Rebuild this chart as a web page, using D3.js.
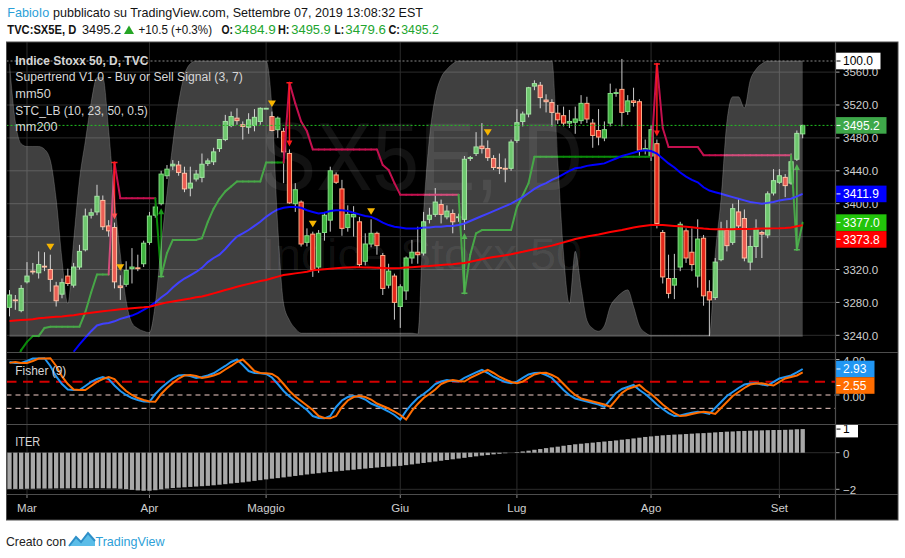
<!DOCTYPE html>
<html><head><meta charset="utf-8">
<script src="https://cdn.jsdelivr.net/npm/d3@7"></script>
<style>
body{margin:0;background:#fff;}
svg{display:block;}
text{font-family:"Liberation Sans",Arial,sans-serif;}
</style></head>
<body><svg id="c" width="905" height="558"></svg>
<script>
// ---------- DATA ----------
const monthLabels = ["Mar","Apr","Maggio","Giu","Lug","Ago","Set"];
const monthStart = [3,24,44,67,87,110,132];
const priceTicks = [3240,3280,3320,3360,3400,3440,3480,3520,3560];
const fisherTicks = [0,4];
const iterTicks = [-2,0];

const open = [
3274,3283,3270,3305,3318,3316,3324,3320,3300,3290,
3312,3301,3323,3344,3386,3390,3404,3373,3371,3300,
3302,3321,3322,3327,3353,3386,3400,3434,3446,3447,
3437,3419,3430,3432,3449,3451,3467,3478,3495,3504,
3496,3493,3495,3500,3516,3506,3490,3488,3461,3400,
3402,3353,3363,3323,3365,3380,3435,3418,3371,3384,
3378,3330,3351,3364,3337,3301,3312,3275,3294,3334,
3341,3340,3381,3387,3399,3384,3388,3383,3381,3455,
3461,3470,3467,3455,3444,3443,3443,3477,3500,3509,
3543,3544,3526,3523,3510,3507,3498,3499,3501,3522,
3498,3489,3480,3498,3534,3539,3512,3525,3524,3465,
3458,3473,3365,3309,3301,3323,3367,3341,3312,3358,
3293,3286,3332,3368,3353,3390,3382,3329,3348,3365,
3362,3413,3426,3432,3425,3454,3484.9];
const high = [
3295,3289,3301,3329,3328,3342,3341,3338,3305,3309,
3321,3328,3350,3394,3394,3423,3410,3380,3377,3313,
3330,3346,3338,3355,3390,3400,3440,3447,3453,3452,
3445,3445,3441,3461,3455,3468,3478,3508,3512,3516,
3500,3510,3515,3517,3516,3512,3506,3492,3466,3425,
3404,3370,3366,3368,3390,3445,3438,3429,3398,3397,
3384,3364,3381,3366,3340,3327,3315,3302,3336,3356,
3372,3390,3395,3419,3405,3398,3393,3388,3458,3458,
3487,3498,3477,3459,3461,3455,3478,3515,3512,3542,
3550,3548,3533,3527,3520,3518,3514,3518,3532,3530,
3503,3515,3500,3546,3540,3576,3532,3541,3527,3478,
3495,3478,3368,3338,3339,3378,3370,3370,3381,3362,
3307,3334,3378,3380,3400,3406,3393,3361,3381,3367,
3415,3442,3442,3436,3461,3489,3495.9];
const low = [
3263,3271,3268,3303,3314,3309,3318,3293,3275,3285,
3300,3298,3320,3342,3382,3386,3368,3360,3297,3283,
3299,3303,3318,3323,3350,3383,3398,3430,3441,3434,
3414,3409,3427,3426,3446,3447,3463,3476,3493,3496,
3478,3485,3488,3496,3516,3488,3480,3425,3400,3390,
3348,3348,3311,3316,3355,3366,3424,3361,3366,3360,
3323,3325,3347,3338,3289,3297,3259,3249,3283,3327,
3327,3337,3376,3384,3376,3381,3364,3378,3368,3452,
3458,3461,3452,3441,3436,3426,3440,3474,3494,3505,
3538,3516,3511,3494,3497,3494,3492,3485,3497,3498,
3468,3471,3476,3494,3530,3494,3508,3518,3456,3460,
3452,3370,3303,3285,3284,3318,3328,3318,3298,3276,
3239,3283,3330,3342,3350,3368,3330,3319,3334,3334,
3358,3410,3424,3408,3423,3452,3479.6];
const close = [
3289,3282,3297,3312,3317,3326,3323,3308,3282,3304,
3303,3323,3342,3385,3389,3409,3372,3367,3305,3298,
3319,3323,3321,3352,3385,3396,3436,3442,3448,3438,
3418,3425,3436,3448,3452,3463,3478,3500,3506,3501,
3494,3502,3505,3516,3516,3489,3504,3463,3401,3417,
3351,3361,3320,3364,3386,3440,3426,3370,3387,3387,
3326,3351,3364,3349,3297,3318,3280,3299,3334,3341,
3338,3378,3386,3402,3387,3391,3378,3384,3454,3456,
3469,3467,3456,3444,3443,3442.6,3475,3498.5,3509,3541,
3546,3529,3524,3511,3502,3498,3500,3503,3522,3503,
3483,3481,3490,3534,3535,3511,3525,3523,3465,3467,
3490,3376,3311,3291,3309,3375,3334,3326,3357,3288,
3283,3329,3369,3349,3394,3373,3334,3348,3370,3363,
3412,3428,3434,3422,3451,3485.5,3495.2];

const mm50 = [
null,null,null,null,null,null,null,null,null,null,
null,3220,3229,3237,3245,3252,3254,3255,3257,3260,
3262,3264,3267,3271,3275,3280,3286,3291,3298,3304,
3309,3313,3317,3322,3329,3334,3338,3345,3353,3360,
3364,3368,3373,3378,3384,3389,3393,3395,3396,3396,
3395,3392,3390,3388,3389,3391,3392,3392,3391,3389,
3387,3385,3384,3381,3377,3374,3372,3371,3370,3370,
3370,3371,3371,3372,3372,3373,3373,3374,3376,3379,
3382,3385,3388,3391,3394,3397,3400,3404,3408,3413,
3418,3422,3425,3429,3432,3436,3440,3443,3444,3446,
3447,3448,3449,3452,3455,3458,3460,3462,3464,3465,
3464,3461,3455,3449,3444,3438,3433,3429,3426,3420,
3416,3414,3412,3410,3408,3406,3404,3402,3401,3400,
3401,3402,3404,3405,3406,3409,3411.9];

const mm200 = [
3257.5,3258,3258.5,3259,3259.5,3260.8,3261.3,3262,3262.5,3263,
3263.8,3264.5,3265.5,3266.5,3267.5,3268.3,3269.2,3270,3270.8,3271.6,
3272.2,3272.8,3273.4,3274,3274.8,3276.5,3278.3,3280,3281.2,3282.4,
3283.6,3284.8,3286.3,3287.2,3289,3291,3293,3295,3297,3299,
3300.8,3302.5,3304.2,3306,3307.3,3309.3,3311.3,3313.2,3314.3,3315.3,
3316.2,3317.2,3319,3319.8,3320.4,3321,3321.5,3322,3322.4,3322.7,
3322.7,3322.5,3322.3,3322,3321.7,3321.5,3321.5,3321.7,3322.3,3322.8,
3323.4,3324,3324.4,3325,3325.5,3326,3326.5,3327.2,3328,3329.5,
3331,3332.5,3334,3335.2,3336.2,3337.2,3338.5,3340,3341.5,3343.2,
3344.5,3346,3347.5,3349,3351,3353,3355,3357,3358.5,3360,
3361.3,3362.5,3364,3365.5,3366.8,3368,3369.5,3371,3372.2,3373.3,
3374,3374.2,3374,3373.5,3373,3372.5,3372,3371.5,3370.5,3369.8,
3369.3,3369,3368.8,3368.8,3369,3369.2,3369.2,3369.3,3369.5,3369.7,
3369.8,3370,3370.2,3370.6,3371.2,3372.5,3373.8];

const stLine = [
3195,3205,3222,3232,3239,3239,3249,3250.5,3250.5,3250.5,
3250.5,3250.5,3250.5,3268,3292,3314,3314,3314,3450,3406.6,
3406.6,3406.6,3406.6,3406.6,3406.6,3406.6,3311.5,3340,3356,3356,
3356,3356,3356,3358,3378,3394,3406,3415,3421,3427,
3427,3427,3427,3427,3450,3450,3450,3450,3547,3522,
3500,3488,3466,3466,3466,3466,3466,3466,3466,3466,
3466,3466,3466,3466,3447,3441,3425,3411,3411,3411,
3411,3411,3411,3411,3411,3411,3411,3411,3291,3338,
3364,3368,3368,3368,3368,3368,3368,3396,3410,3425,
3457,3457,3457,3457,3457,3457,3457,3457,3457,3457,
3457,3457,3457,3457,3457,3457,3457,3457,3457,3457,
3457,3570,3492,3469,3469,3469,3469,3469,3469,3459,
3459,3459,3459,3459,3459,3459,3459,3459,3459,3459,
3459,3459,3459,3459,3459,3344,3377];
const stDir = [
1,1,1,1,1,1,1,1,1,1,
1,1,1,1,1,1,1,1,-1,-1,
-1,-1,-1,-1,-1,-1,1,1,1,1,
1,1,1,1,1,1,1,1,1,1,
1,1,1,1,1,1,1,1,-1,-1,
-1,-1,-1,-1,-1,-1,-1,-1,-1,-1,
-1,-1,-1,-1,-1,-1,-1,-1,-1,-1,
-1,-1,-1,-1,-1,-1,-1,-1,1,1,
1,1,1,1,1,1,1,1,1,1,
1,1,1,1,1,1,1,1,1,1,
1,1,1,1,1,1,1,1,1,1,
1,-1,-1,-1,-1,-1,-1,-1,-1,-1,
-1,-1,-1,-1,-1,-1,-1,-1,-1,-1,
-1,-1,-1,-1,-1,1,1];
const sellSignals = [18,48,111];
const buySignals = [26,78,135];
const warnMarks = [7,19,45,52,62,82];

const stc = [
99,78,70,69,69,69,68,64,50,28,
12,35,57,71,85,94,94,75,50,30,
13,5,3,2,1.5,12,33,52,70,85,
95,99,100,100,100,100,100,100,100,100,
100,100,100,100,100,83,40,12,6,3,
1.3,1.3,1.3,1.3,1.3,1.3,1.3,1.3,1.3,1.3,
1.3,1.3,1.3,1.3,1.3,1.3,1.3,1.3,1.3,1.3,
1,45,72,87,94,97,99,100,100,100,
100,100,100,100,100,100,100,100,100,100,
100,100,100,100,64,30,12,31,18,6,
3,2,4,11,14,16,17,11,4,1.5,
0.5,0.5,0.5,0.5,0.5,0.5,0.5,0.5,0.5,0.5,
0.5,30,50,78,87,87,83,93,97,99,
100,100,100,100,100,100,100];

const fisher = [
3.72,3.6,3.6,3.83,4.1,4.1,4.14,3.27,2.09,1.24,
0.62,0.56,0.56,1.01,1.47,1.8,2.03,1.8,1.07,0.45,
0,-0.34,-0.56,-0.73,-0.76,0.11,0.79,1.35,1.86,2.2,
2.25,2.14,1.92,2.03,2.2,2.45,2.87,3.27,3.72,4.0,
3.38,2.7,2.48,2.45,2.37,1.97,1.24,0.45,-0.17,-0.68,
-1.18,-1.69,-2.37,-2.59,-2.63,-2.37,-1.35,-0.62,-0.23,-0.11,
-0.23,-0.51,-0.96,-1.24,-1.52,-1.86,-2.25,-2.76,-1.8,-1.01,
-0.34,0.11,0.62,1.24,1.52,1.69,1.58,1.52,1.92,2.25,
2.54,2.82,2.48,2.06,1.75,1.47,1.32,1.5,1.92,2.31,
2.48,2.51,2.25,1.92,1.24,0.56,0,-0.39,-0.56,-0.73,
-0.9,-1.07,-1.32,-0.56,0.23,0.68,0.9,1.13,0.56,0.11,
-0.45,-1.07,-1.58,-2.03,-2.37,-2.31,-2.14,-2.0,-1.88,-1.97,
-2.14,-1.47,-0.79,-0.11,0.34,0.79,1.18,1.3,1.32,1.18,
1.07,1.47,1.86,2.03,2.2,2.54,2.93];
const trigger = [
3.62,3.72,3.6,3.6,3.83,4.1,4.1,4.14,3.27,2.09,
1.24,0.62,0.56,0.56,1.01,1.47,1.8,2.03,1.8,1.07,
0.45,0,-0.34,-0.56,-0.73,-0.76,0.11,0.79,1.35,1.86,
2.2,2.25,2.14,1.92,2.03,2.2,2.45,2.87,3.27,3.72,
4.0,3.38,2.7,2.48,2.45,2.37,1.97,1.24,0.45,-0.17,
-0.68,-1.18,-1.69,-2.37,-2.59,-2.63,-2.37,-1.35,-0.62,-0.23,
-0.11,-0.23,-0.51,-0.96,-1.24,-1.52,-1.86,-2.25,-2.76,-1.8,
-1.01,-0.34,0.11,0.62,1.24,1.52,1.69,1.58,1.52,1.92,
2.25,2.54,2.82,2.48,2.06,1.75,1.47,1.32,1.5,1.92,
2.31,2.48,2.51,2.25,1.92,1.24,0.56,0,-0.39,-0.56,
-0.73,-0.9,-1.07,-1.32,-0.56,0.23,0.68,0.9,1.13,0.56,
0.11,-0.45,-1.07,-1.58,-2.03,-2.37,-2.31,-2.14,-2.0,-1.88,
-1.97,-2.14,-1.47,-0.79,-0.11,0.34,0.79,1.18,1.3,1.32,
1.18,1.07,1.47,1.86,2.03,2.2,2.55];

const iter = [
-1.98,-1.98,-1.98,-1.97,-1.97,-1.96,-1.96,-1.96,-1.95,-1.95,
-1.95,-1.94,-1.94,-1.94,-1.94,-1.94,-1.94,-1.95,-1.95,-1.97,
-1.99,-2.03,-2.06,-2.08,-2.08,-2.05,-2.0,-1.96,-1.93,-1.91,
-1.89,-1.87,-1.85,-1.83,-1.81,-1.78,-1.75,-1.72,-1.68,-1.65,
-1.62,-1.58,-1.54,-1.5,-1.46,-1.42,-1.39,-1.35,-1.31,-1.27,
-1.23,-1.19,-1.15,-1.12,-1.08,-1.05,-1.02,-0.99,-0.96,-0.93,
-0.9,-0.87,-0.84,-0.81,-0.78,-0.76,-0.74,-0.72,-0.68,-0.64,
-0.6,-0.56,-0.52,-0.48,-0.44,-0.4,-0.36,-0.32,-0.28,-0.24,
-0.2,-0.16,-0.13,-0.09,-0.06,-0.03,0.0,0.03,0.07,0.11,
0.16,0.2,0.25,0.29,0.33,0.38,0.42,0.46,0.49,0.52,
0.55,0.58,0.61,0.64,0.67,0.71,0.74,0.78,0.82,0.86,
0.89,0.92,0.95,0.97,0.99,1.0,1.02,1.04,1.06,1.07,
1.09,1.11,1.13,1.15,1.16,1.18,1.19,1.2,1.21,1.22,
1.23,1.24,1.24,1.25,1.26,1.28,1.29];

// ---------- LAYOUT ----------
const W = 905, H = 558;
const L = 6.5, R = 835.5, RR = 898, TOP = 42, S1 = 352.5, S2 = 424.5, S3 = 494.5, BOT = 520;
const N = open.length;

const x = d3.scaleLinear().domain([0, N - 1]).range([9.5, 802.7]);
const y = d3.scaleLinear().domain([3240, 3560]).range([335.3, 72.1]);
const yStc = d3.scaleLinear().domain([0, 100]).range([336.7, 61]);
const yF = d3.scaleLinear().domain([0, 4]).range([395, 359.5]);
const yI = d3.scaleLinear().domain([-2, 0]).range([489.3, 452.7]);

const svg = d3.select("#c");
svg.append("rect").attr("width", W).attr("height", H).attr("fill", "#fff");
svg.append("rect").attr("x", L).attr("y", TOP).attr("width", RR - L).attr("height", BOT - TOP).attr("fill", "#000");

const defs = svg.append("defs");
function clip(id, x0, y0, w, h) {
  defs.append("clipPath").attr("id", id).append("rect").attr("x", x0).attr("y", y0).attr("width", w).attr("height", h);
}
clip("cp1", L, TOP, R - L, S1 - TOP);
clip("cp2", L, S1, R - L, S2 - S1);
clip("cp3", L, S2, R - L, S3 - S2);
clip("ca1", R, TOP, RR - R, S1 - TOP);
clip("ca2", R, S1, RR - R, S2 - S1);
clip("ca3", R, S2, RR - R, S3 - S2);

const GRID = "#2c2c2c";
const gv = svg.append("g");
monthStart.forEach(i => {
  gv.append("line").attr("x1", x(i)).attr("x2", x(i)).attr("y1", TOP).attr("y2", S3)
    .attr("stroke", GRID).attr("stroke-width", 1);
});

// ---------- PRICE PANE ----------
const g1 = svg.append("g").attr("clip-path", "url(#cp1)");
priceTicks.forEach(t => {
  g1.append("line").attr("x1", L).attr("x2", R).attr("y1", y(t)).attr("y2", y(t))
    .attr("stroke", GRID).attr("stroke-width", 1);
});
g1.append("text").attr("x", 421.5).attr("y", 190).attr("text-anchor", "middle")
  .attr("font-size", 96).attr("textLength", 323).attr("lengthAdjust", "spacingAndGlyphs")
  .attr("fill", "rgba(255,255,255,0.07)").text("SX5E, D");
g1.append("text").attr("x", 422).attr("y", 270).attr("text-anchor", "middle")
  .attr("font-size", 44).attr("textLength", 320).attr("lengthAdjust", "spacingAndGlyphs")
  .attr("fill", "rgba(255,255,255,0.07)").text("Indice Stoxx 50");

const bw = 4.2;
const cg = g1.append("g");
for (let i = 0; i < N; i++) {
  const up = close[i] >= open[i];
  const cx = x(i);
  cg.append("line").attr("x1", cx).attr("x2", cx).attr("y1", y(high[i])).attr("y2", y(low[i]))
    .attr("stroke", "#c9c9c9").attr("stroke-width", 1);
  const yt = y(Math.max(open[i], close[i])), yb = y(Math.min(open[i], close[i]));
  cg.append("rect").attr("x", cx - bw / 2).attr("y", yt).attr("width", bw).attr("height", Math.max(yb - yt, 0.8))
    .attr("fill", up ? "#3fb43f" : "#e3281c").attr("stroke", up ? "#84dc84" : "#ffab85").attr("stroke-width", 1);
}

const stg = g1.append("g");
for (let i = 1; i < N; i++) {
  stg.append("line").attr("x1", x(i - 1)).attr("y1", y(stLine[i - 1])).attr("x2", x(i)).attr("y2", y(stLine[i]))
    .attr("stroke", stDir[i] > 0 ? "#0a8a0a" : "#c4104f").attr("stroke-width", 2).attr("stroke-linecap", "round");
}
sellSignals.forEach(i => {
  const cx = x(i), y0 = y(stLine[i]), y1 = y(high[i]) - 3;
  stg.append("line").attr("x1", cx).attr("x2", cx).attr("y1", y0).attr("y2", y1 - 4).attr("stroke", "#ff1a1a").attr("stroke-width", 1.5);
  stg.append("line").attr("x1", cx - 3).attr("x2", cx + 3).attr("y1", y0).attr("y2", y0).attr("stroke", "#ff1a1a").attr("stroke-width", 1.5);
  stg.append("path").attr("d", `M${cx - 3},${y1 - 6}L${cx + 3},${y1 - 6}L${cx},${y1}Z`).attr("fill", "#ff1a1a");
});
buySignals.forEach(i => {
  const cx = x(i), y0 = y(stLine[i]), y1 = y(low[i]) + 3;
  stg.append("line").attr("x1", cx).attr("x2", cx).attr("y1", y0).attr("y2", y1 + 4).attr("stroke", "#1a9a1a").attr("stroke-width", 1.5);
  stg.append("line").attr("x1", cx - 3).attr("x2", cx + 3).attr("y1", y0).attr("y2", y0).attr("stroke", "#1a9a1a").attr("stroke-width", 1.5);
  stg.append("path").attr("d", `M${cx - 3},${y1 + 6}L${cx + 3},${y1 + 6}L${cx},${y1}Z`).attr("fill", "#1a9a1a");
});

g1.append("path").datum(mm50)
  .attr("d", d3.line().defined(d => d != null).x((d, i) => x(i)).y(d => y(d)))
  .attr("fill", "none").attr("stroke", "#0000ff").attr("stroke-width", 2);

g1.append("path").datum(stc)
  .attr("d", d3.area().curve(d3.curveMonotoneX).x((d, i) => x(i)).y0(yStc(0)).y1(d => yStc(d)))
  .attr("fill", "rgba(255,255,255,0.25)");
g1.append("path").datum(stc)
  .attr("d", d3.line().curve(d3.curveMonotoneX).x((d, i) => x(i)).y(d => yStc(d)))
  .attr("fill", "none").attr("stroke", "rgba(255,255,255,0.18)").attr("stroke-width", 1);

g1.append("path").datum(mm200)
  .attr("d", d3.line().x((d, i) => x(i)).y(d => y(d)))
  .attr("fill", "none").attr("stroke", "#ff0000").attr("stroke-width", 2);

warnMarks.forEach(i => {
  const cx = x(i), yc = y(high[i]) - 8;
  g1.append("path").attr("d", `M${cx - 4},${yc - 3}L${cx + 4},${yc - 3}L${cx},${yc + 3.5}Z`).attr("fill", "#f7b500");
});

g1.append("line").attr("x1", L).attr("x2", R).attr("y1", y(close[N - 1])).attr("y2", y(close[N - 1]))
  .attr("stroke", "#22c022").attr("stroke-width", 1).attr("stroke-dasharray", "2,2");
g1.append("line").attr("x1", L).attr("x2", R).attr("y1", yStc(100)).attr("y2", yStc(100))
  .attr("stroke", "#8a8a8a").attr("stroke-width", 1).attr("stroke-dasharray", "2,2");

function ltext(g, s, x0, yb, w, opt = {}) {
  const t = g.append("text").attr("x", x0).attr("y", yb).attr("font-size", opt.size || 12)
    .attr("fill", opt.fill || "#d6d6d6").attr("font-weight", opt.bold ? "bold" : "normal").text(s);
  if (w) t.attr("textLength", w).attr("lengthAdjust", "spacingAndGlyphs");
  return t;
}
const lg = svg.append("g");
ltext(lg, "Indice Stoxx 50, D, TVC", 15.3, 64.5, 133, {bold: true});
ltext(lg, "Supertrend V1.0 - Buy or Sell Signal (3, 7)", 15.3, 81.2, 227.5);
ltext(lg, "mm50", 15.3, 97.8, 35.5);
ltext(lg, "STC_LB (10, 23, 50, 0.5)", 15.3, 114.5, 132.5);
ltext(lg, "mm200", 15.3, 131.3, 42.3);

// ---------- FISHER PANE ----------
const g2 = svg.append("g").attr("clip-path", "url(#cp2)");
g2.append("line").attr("x1", L).attr("x2", R).attr("y1", yF(4)).attr("y2", yF(4)).attr("stroke", GRID);
g2.append("line").attr("x1", L).attr("x2", R).attr("y1", yF(1.5)).attr("y2", yF(1.5))
  .attr("stroke", "#d40000").attr("stroke-width", 2).attr("stroke-dasharray", "10,6.5");
[0, -1.5].forEach(v => {
  g2.append("line").attr("x1", L).attr("x2", R).attr("y1", yF(v)).attr("y2", yF(v))
    .attr("stroke", "#f3cfc8").attr("stroke-width", 1).attr("stroke-dasharray", "5,4");
});
g2.append("path").datum(fisher).attr("d", d3.line().x((d, i) => x(i)).y(d => yF(d)))
  .attr("fill", "none").attr("stroke", "#2196f3").attr("stroke-width", 2);
g2.append("path").datum(trigger).attr("d", d3.line().x((d, i) => x(i)).y(d => yF(d)))
  .attr("fill", "none").attr("stroke", "#ff6d00").attr("stroke-width", 2);
ltext(svg, "Fisher (9)", 15.3, 375, 51);

// ---------- ITER PANE ----------
const g3 = svg.append("g").attr("clip-path", "url(#cp3)");
iterTicks.forEach(t => {
  g3.append("line").attr("x1", L).attr("x2", R).attr("y1", yI(t)).attr("y2", yI(t)).attr("stroke", GRID);
});
iter.forEach((v, i) => {
  const y0 = yI(0), y1 = yI(v);
  g3.append("rect").attr("x", x(i) - 2.15).attr("width", 4.3)
    .attr("y", Math.min(y0, y1)).attr("height", Math.max(Math.abs(y1 - y0), 0.01)).attr("fill", "#a8a8a8");
});
ltext(svg, "ITER", 15.3, 445.5, 25);

// ---------- AXES ----------
const AX = "#cfcfcf";
// value labels (computed first so fully covered tick labels can be skipped)
function stack(items, hgt) {
  items.sort((a, b) => a.y - b.y);
  for (let k = 1; k < items.length; k++) {
    if (items[k].y - items[k - 1].y < hgt) items[k].y = items[k - 1].y + hgt;
  }
  return items;
}
const priceLabels = stack([
  {y: y(mm50[N - 1]), t: d3.format(".1f")(mm50[N - 1]), bg: "#0000ff"},
  {y: y(stLine[N - 1]), t: d3.format(".1f")(stLine[N - 1]), bg: "#22c40a"},
  {y: y(mm200[N - 1]), t: d3.format(".1f")(mm200[N - 1]), bg: "#ff0000"}
], 16.8);
const hiddenBy = yy => priceLabels.some(d => Math.abs(d.y - yy) < 4);

const ga1 = svg.append("g").attr("clip-path", "url(#ca1)");
priceTicks.forEach(t => {
  ga1.append("line").attr("x1", R).attr("x2", R + 4).attr("y1", y(t)).attr("y2", y(t)).attr("stroke", "#aaa");
  if (!hiddenBy(y(t)))
    ga1.append("text").attr("x", 843).attr("y", y(t) + 4.2).attr("font-size", 11.5).attr("fill", AX).text(d3.format(".1f")(t));
});
const ga2 = svg.append("g").attr("clip-path", "url(#ca2)");
fisherTicks.forEach(t => {
  ga2.append("line").attr("x1", R).attr("x2", R + 4).attr("y1", yF(t)).attr("y2", yF(t)).attr("stroke", "#aaa");
  ga2.append("text").attr("x", 843).attr("y", yF(t) + 5.5).attr("font-size", 11.5).attr("fill", AX).text(d3.format(".2f")(t));
});
const ga3 = svg.append("g").attr("clip-path", "url(#ca3)");
iterTicks.forEach(t => {
  ga3.append("line").attr("x1", R).attr("x2", R + 4).attr("y1", yI(t)).attr("y2", yI(t)).attr("stroke", "#aaa");
  ga3.append("text").attr("x", 843).attr("y", yI(t) + 5).attr("font-size", 11.5).attr("fill", AX)
    .text(t < 0 ? "\u2212" + Math.abs(t) : String(t));
});

function vlabel(g, yc, txt, bg, fg, w) {
  g.append("rect").attr("x", R).attr("y", yc - 8.3).attr("width", w).attr("height", 16.6).attr("fill", bg);
  g.append("line").attr("x1", R + 1).attr("x2", R + 5).attr("y1", yc).attr("y2", yc).attr("stroke", fg);
  g.append("text").attr("x", 843).attr("y", yc + 4.3).attr("font-size", 12).attr("fill", fg).text(txt);
}
vlabel(ga1, yStc(100), "100.0", "#ffffff", "#000", 45);
vlabel(ga1, y(close[N - 1]), d3.format(".1f")(close[N - 1]), "#3ea84a", "#fff", 51);
priceLabels.forEach(d => vlabel(ga1, d.y, d.t, d.bg, "#fff", 51));
stack([
  {y: yF(fisher[N - 1]), t: d3.format(".2f")(fisher[N - 1]), bg: "#2196f3"},
  {y: yF(trigger[N - 1]), t: d3.format(".2f")(trigger[N - 1]), bg: "#ff6d00"}
], 16.5).forEach(d => vlabel(ga2, d.y, d.t, d.bg, "#fff", 39));
vlabel(ga3, yI(iter[N - 1]), d3.format(".0f")(iter[N - 1]), "#ffffff", "#000", 22.5);

monthStart.forEach((i, k) => {
  svg.append("line").attr("x1", x(i)).attr("x2", x(i)).attr("y1", S3).attr("y2", S3 + 3.5).attr("stroke", "#888");
  svg.append("text").attr("x", x(i)).attr("y", 512).attr("text-anchor", "middle").attr("font-size", 11.5)
    .attr("fill", AX).text(monthLabels[k]);
});

const SEP = "#4d4d4d";
[S1, S2, S3].forEach(s => {
  svg.append("line").attr("x1", L).attr("x2", RR).attr("y1", s).attr("y2", s).attr("stroke", SEP).attr("stroke-width", 1.2);
});
svg.append("line").attr("x1", R).attr("x2", R).attr("y1", TOP).attr("y2", BOT).attr("stroke", SEP).attr("stroke-width", 1.2);
svg.append("rect").attr("x", L).attr("y", TOP).attr("width", RR - L).attr("height", BOT - TOP)
  .attr("fill", "none").attr("stroke", SEP).attr("stroke-width", 1);

// ---------- HEADER ----------
const hg = svg.append("g");
function htext(s, x0, yb, w, opt = {}) {
  const t = hg.append("text").attr("x", x0).attr("y", yb).attr("font-size", opt.size || 13.4)
    .attr("fill", opt.fill || "#131313").attr("font-weight", opt.bold ? "bold" : "normal").text(s);
  if (w) t.attr("textLength", w).attr("lengthAdjust", "spacingAndGlyphs");
}
htext("FabioIo", 7.3, 17.3, 42, {fill: "#2a9fd8"});
htext("pubblicato su TradingView.com, Settembre 07, 2019 13:08:32 EST", 53, 17.3, 370);
htext("TVC:SX5E, D", 7.3, 34, 69, {bold: true});
htext("3495.2", 82, 34, 39);
hg.append("path").attr("d", "M124,34L134,34L129,25.5Z").attr("fill", "#25a525");
htext("+10.5 (+0.3%)", 138.5, 34, 73.5);
const GV = "#22a52f";
htext("O:", 221.5, 34, 11.5, {bold: true});
htext("3484.9", 234.3, 34, 41.5, {fill: GV});
htext("H:", 278, 34, 11.5, {bold: true});
htext("3495.9", 291.3, 34, 39.5, {fill: GV});
htext("L:", 334.5, 34, 9.5, {bold: true});
htext("3479.6", 345.3, 34, 40.5, {fill: GV});
htext("C:", 388.5, 34, 11.5, {bold: true});
htext("3495.2", 401.3, 34, 37.5, {fill: GV});

// ---------- FOOTER ----------
htext("Creato con", 6, 545.5, 60, {size: 13, fill: "#222"});
hg.append("path").attr("d", "M69,546 L76,537 L81,542 L88,533 L95,541 L95,546 Z").attr("fill", "#5bbde8");
hg.append("path").attr("d", "M69,546 L76,537 L81,542 L88,533 L95,541").attr("fill", "none").attr("stroke", "#2e8fc8").attr("stroke-width", 2);
htext("TradingView", 95.5, 545.5, 69, {size: 13, fill: "#2e9fd8"});
</script>
</body></html>
